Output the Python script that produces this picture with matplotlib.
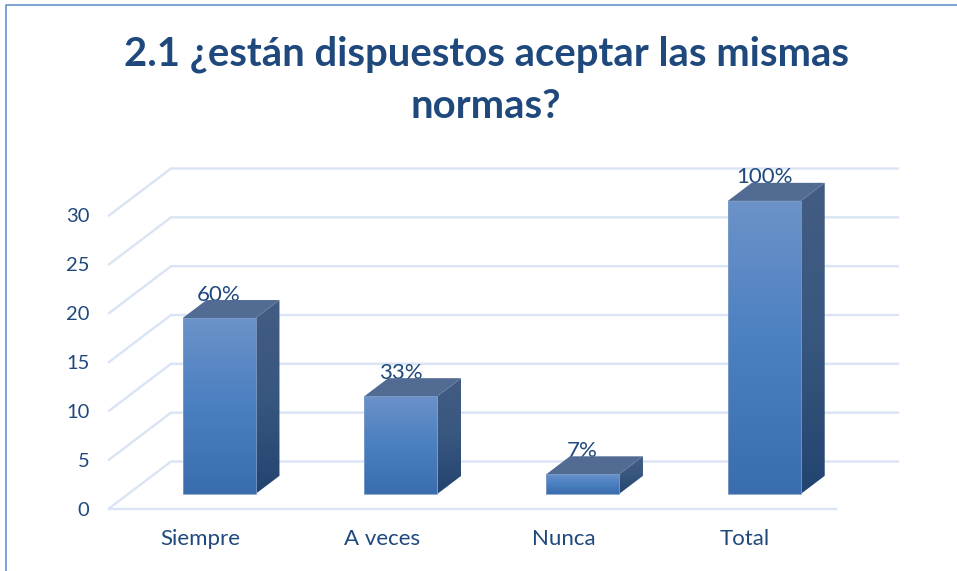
import numpy as np
import matplotlib
matplotlib.use('Agg')
import matplotlib.pyplot as plt
from matplotlib.colors import LinearSegmentedColormap
from matplotlib.lines import Line2D
from matplotlib.patches import Polygon

plt.rcParams['font.family'] = ['Lato', 'DejaVu Sans']

# data
categories = ['Siempre', 'A veces', 'Nunca', 'Total']
values = [18, 10, 2, 30]
pct_labels = ['60%', '33%', '7%', '100%']
y_ticks = [0, 5, 10, 15, 20, 25, 30]
title = '2.1 ¿están dispuestos aceptar las mismas\nnormas?'

W, H = 957, 571
DARK = '#1F497D'
GRID = '#D9E4F4'

fig = plt.figure(figsize=(W / 100, H / 100), dpi=100)
# axes box = front edge of the floor, up to the 30 level
ax = fig.add_axes([109 / W, 1 - 508.5 / H, 727 / W, 293 / H])
ax.set_xlim(-0.5, 3.5)
ax.set_ylim(0, 30)

# fake 3d: depth 0 is front of floor, depth 1 is back wall
depth_x = 62 / (727 / 4)
depth_y = 47 / (293 / 30)

def proj(x, y, d):
    return x + d * depth_x, y + d * depth_y

# gridlines, side wall + back wall
for t in y_ticks:
    x0, y0 = proj(-0.5, t, 0)
    x1, y1 = proj(-0.5, t, 1)
    x2, y2 = proj(3.5, t, 1)
    ax.plot([x0, x1, x2], [y0, y1, y2], color=GRID, lw=1.7, zorder=1,
            clip_on=False, solid_joinstyle='miter')
ax.plot([-0.5, 3.5], [0, 0], color=GRID, lw=1.7, zorder=1, clip_on=False)

front_cm = LinearSegmentedColormap.from_list('front', ['#6C92C9', '#4A7FC0', '#3A6DAE'])
side_cm = LinearSegmentedColormap.from_list('side', ['#435C83', '#38577F', '#234470'])
grad = np.linspace(0, 1, 128).reshape(-1, 1)

def face(pts, cmap, z):
    xs = [p[0] for p in pts]
    ys = [p[1] for p in pts]
    im = ax.imshow(grad, cmap=cmap, aspect='auto', zorder=z,
                   extent=(min(xs), max(xs), min(ys), max(ys)), origin='upper')
    clip = Polygon(pts, closed=True, transform=ax.transData, fc='none', ec='none', clip_on=False)
    ax.add_patch(clip)
    im.set_clip_path(clip)
    # the tallest bar sticks out above the axes box
    im.set_clip_box(fig.bbox)

bar_w = 73 / (727 / 4)
d0, d1 = 0.31, 0.695

for i, v in enumerate(values):
    left = i - bar_w / 2
    right = i + bar_w / 2
    a = proj(left, 0, d0)
    b = proj(right, 0, d0)
    c = proj(right, v, d0)
    e = proj(left, v, d0)
    f = proj(right, 0, d1)
    g = proj(right, v, d1)
    h = proj(left, v, d1)
    cx, top = proj(i, v, d0)
    # label goes behind the bar top, like in the original
    ax.annotate(pct_labels[i], (cx, top), xytext=(0, 17), textcoords='offset points',
                ha='center', va='center', fontsize=16, color=DARK, zorder=3,
                annotation_clip=False)
    face([a, b, c, e], front_cm, 5)
    face([b, f, g, c], side_cm, 5)
    ax.add_patch(Polygon([e, c, g, h], closed=True, fc='#516B93', ec='none', zorder=5, clip_on=False))
    ax.add_patch(Polygon([a, b, c, e], closed=True, fc='none', ec='#7F9DCB', lw=0.6, zorder=6, clip_on=False))

ax.set_xlim(-0.5, 3.5)
ax.set_ylim(0, 30)
ax.patch.set_visible(False)
for s in ax.spines.values():
    s.set_visible(False)
ax.set_xticks(range(len(categories)))
ax.set_xticklabels(categories)
ax.set_yticks(y_ticks)
ax.tick_params(axis='both', length=0, labelcolor=DARK)
ax.tick_params(axis='x', labelsize=16, pad=14.5)
ax.tick_params(axis='y', labelsize=14.5, pad=14)

fig.text(486 / W, 1 - 80 / H, title, ha='center', va='center', fontsize=28.8,
         fontweight='bold', color=DARK, linespacing=1.5)

# chart frame, only left and top are visible in the crop
fig.add_artist(Line2D([6 / W, 6 / W, 1], [0, 1 - 4.5 / H, 1 - 4.5 / H], color='#5B87C5', lw=1.1))

fig.savefig('out.png', dpi=100)
